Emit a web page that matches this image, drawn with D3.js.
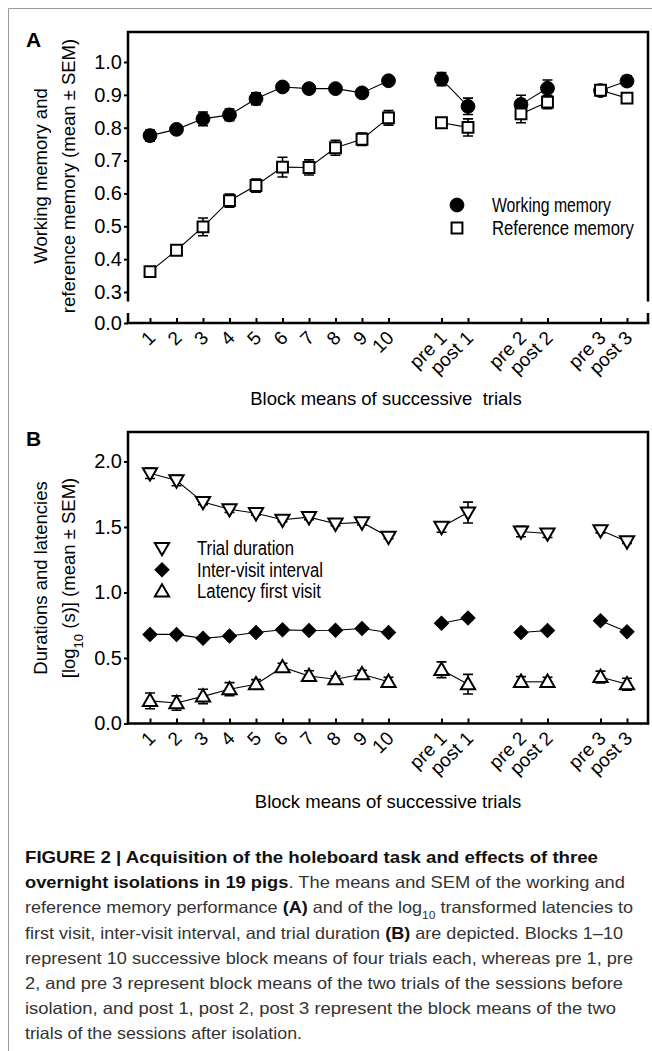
<!DOCTYPE html>
<html>
<head>
<meta charset="utf-8">
<script src="https://cdn.jsdelivr.net/npm/d3@7"></script>
<style>
body { margin: 0; background: #fff; }
svg { display: block; font-family: "Liberation Sans", Arial, sans-serif; }
</style>
</head>
<body>
<script>
var W = 652, H = 1051;

// block categories and their slot on the x axis (gaps between sessions)
var blocks = ["1", "2", "3", "4", "5", "6", "7", "8", "9", "10", "pre 1", "post 1", "pre 2", "post 2", "pre 3", "post 3"];
var blockPos = [1, 2, 3, 4, 5, 6, 7, 8, 9, 10, 12, 13, 15, 16, 18, 19];
var segments = [[0, 10], [10, 12], [12, 14], [14, 16]];

// panel A
var wmMean = [0.776, 0.795, 0.827, 0.839, 0.888, 0.924, 0.919, 0.919, 0.906, 0.943, 0.948, 0.865, 0.871, 0.920, 0.913, 0.942];
var wmSem  = [0.017, 0.013, 0.021, 0.018, 0.018, 0.008, 0.010, 0.008, 0.010, 0.010, 0.020, 0.025, 0.028, 0.025, 0.008, 0.015];
var rmMean = [0.362, 0.427, 0.498, 0.578, 0.624, 0.680, 0.679, 0.739, 0.765, 0.830, 0.815, 0.801, 0.842, 0.878, 0.914, 0.890];
var rmSem  = [0.008, 0.008, 0.027, 0.020, 0.020, 0.030, 0.023, 0.023, 0.019, 0.022, 0.010, 0.026, 0.027, 0.020, 0.010, 0.006];
var yTicksA = [0.0, 0.3, 0.4, 0.5, 0.6, 0.7, 0.8, 0.9, 1.0];

// panel B
var tdMean  = [1.91, 1.855, 1.69, 1.635, 1.605, 1.555, 1.575, 1.525, 1.535, 1.425, 1.50, 1.61, 1.465, 1.45, 1.475, 1.39];
var tdSem   = [0.04, 0.04, 0.02, 0.025, 0.015, 0.015, 0.02, 0.015, 0.02, 0.015, 0.04, 0.08, 0.04, 0.03, 0.02, 0.015];
var ivMean  = [0.68, 0.68, 0.65, 0.668, 0.695, 0.715, 0.71, 0.712, 0.725, 0.695, 0.765, 0.805, 0.695, 0.71, 0.785, 0.70];
var ivSem   = [0.01, 0.01, 0.01, 0.01, 0.01, 0.01, 0.01, 0.01, 0.01, 0.01, 0.015, 0.015, 0.01, 0.01, 0.015, 0.01];
var lfMean  = [0.173, 0.156, 0.207, 0.262, 0.300, 0.430, 0.363, 0.338, 0.376, 0.318, 0.410, 0.300, 0.318, 0.318, 0.355, 0.300];
var lfSem   = [0.060, 0.055, 0.055, 0.050, 0.035, 0.030, 0.040, 0.025, 0.030, 0.035, 0.060, 0.075, 0.040, 0.035, 0.045, 0.045];
var yTicksB = [0.0, 0.5, 1.0, 1.5, 2.0];

var svg = d3.select("body").append("svg")
  .attr("width", W).attr("height", H);

// outer figure frame (top and left only)
svg.append("path").attr("d", "M8.5,1051 V8.5 H652")
  .attr("fill", "none").attr("stroke", "#9a9a9a").attr("stroke-width", 1);

var x = d3.scaleLinear().domain([1, 19]).range([150, 627]);
var left = 128, right = 648;

function symbolFor(type) {
  if (type == "circle") return d3.symbol().type(d3.symbolCircle).size(150);
  if (type == "square") return d3.symbol().type(d3.symbolSquare).size(118);
  if (type == "diamond") return d3.symbol().type(d3.symbolSquare).size(100);
  return d3.symbol().type(d3.symbolTriangle).size(88);
}

function drawMarker(g, type, cx, cy) {
  var rot = type == "diamond" ? 45 : (type == "tridown" ? 180 : 0);
  var dy = type == "tridown" ? -1 : (type == "triup" ? 1 : 0);
  g.append("path")
    .attr("d", symbolFor(type)())
    .attr("transform", "translate(" + cx + "," + (cy + dy) + ") rotate(" + rot + ")")
    .attr("fill", (type == "circle" || type == "diamond") ? "#000" : "#fff")
    .attr("stroke", "#000")
    .attr("stroke-width", (type == "circle" || type == "diamond") ? 1 : 2);
}

function drawSeries(g, y, mean, sem, type) {
  var line = d3.line().x(function(d) { return x(blockPos[d]); }).y(function(d) { return y(mean[d]); });
  segments.forEach(function(s) {
    g.append("path").attr("d", line(d3.range(s[0], s[1])))
      .attr("fill", "none").attr("stroke", "#000").attr("stroke-width", 1.1);
  });
  mean.forEach(function(m, i) {
    var cx = x(blockPos[i]);
    var y0 = y(m - sem[i]), y1 = y(m + sem[i]);
    g.append("path")
      .attr("d", "M" + cx + "," + y0 + "V" + y1 + "M" + (cx - 5) + "," + y0 + "H" + (cx + 5) + "M" + (cx - 5) + "," + y1 + "H" + (cx + 5))
      .attr("fill", "none").attr("stroke", "#000").attr("stroke-width", 1.6);
  });
  mean.forEach(function(m, i) {
    drawMarker(g, type, x(blockPos[i]), y(m));
  });
}

function drawXAxis(g, yBase) {
  var ax = d3.axisBottom(x).tickValues(blockPos).tickSize(-5)
    .tickFormat(function(d, i) { return blocks[i]; });
  var a = g.append("g").attr("transform", "translate(0," + yBase + ")").call(ax);
  a.select(".domain").remove();
  a.selectAll(".tick line").attr("stroke", "#000").attr("stroke-width", 2);
  a.selectAll(".tick text")
    .attr("y", 0).attr("dy", 0)
    .attr("text-anchor", "end")
    .attr("transform", "translate(6,16) rotate(-45)")
    .attr("font-size", 19).attr("fill", "#000");
  a.attr("font-family", null);
  g.append("path").attr("d", "M" + (left - 1.2) + "," + yBase + "H" + (right + 1.2))
    .attr("stroke", "#000").attr("stroke-width", 2.5);
}

function drawYAxis(g, y, ticks) {
  var ax = d3.axisLeft(y).tickValues(ticks).tickSize(4).tickPadding(2).tickFormat(d3.format(".1f"));
  var a = g.append("g").attr("transform", "translate(" + left + ",0)").call(ax);
  a.select(".domain").remove();
  a.selectAll(".tick line").attr("stroke", "#000").attr("stroke-width", 2);
  a.selectAll(".tick text").attr("font-size", 20).attr("fill", "#000");
  a.attr("font-family", null);
}

function yTitle(g, lines, cy) {
  var t = g.append("text").attr("transform", "translate(0," + cy + ") rotate(-90)")
    .attr("text-anchor", "middle").attr("font-size", 18.5).attr("fill", "#000");
  lines.forEach(function(ln, i) {
    var tt = t.append("tspan").attr("x", 0).attr("y", i == 0 ? 47 : 75);
    ln.forEach(function(p) {
      var s = tt.append("tspan").text(p.t);
      if (p.sub) s.attr("font-size", 13).attr("baseline-shift", "sub");
    });
  });
}

// legend labels are a condensed face in the original: squeeze them to width
function legend(g, items, lx, ly) {
  items.forEach(function(it, i) {
    var cy = ly + i * it.step;
    drawMarker(g, it.type, lx, cy);
    var t = g.append("text").attr("x", 0).attr("y", 0)
      .attr("font-size", 19.5).attr("fill", "#000")
      .text(it.label);
    var k = it.w / t.node().getComputedTextLength();
    t.attr("transform", "translate(" + (lx + 35) + "," + (cy + 7) + ") scale(" + k + ",1)");
  });
}

// ---------------- Panel A ----------------
var topA = 32, baseA = 323;
var yA = d3.scaleLinear().domain([0, 0.3, 1.0]).range([baseA, 292, 62]);
var gA = svg.append("g");

gA.append("text").attr("x", 26).attr("y", 47).attr("font-size", 21).attr("font-weight", "bold").text("A");
gA.append("path")
  .attr("d", "M" + left + "," + (baseA + 1) + "V313M" + left + ",301.5V" + topA + "H" + right + "V301.5M" + right + ",313V" + (baseA + 1))
  .attr("fill", "none").attr("stroke", "#000").attr("stroke-width", 2.5);
drawYAxis(gA, yA, yTicksA);
drawXAxis(gA, baseA);

drawSeries(gA, yA, wmMean, wmSem, "circle");
drawSeries(gA, yA, rmMean, rmSem, "square");

legend(gA, [
  { type: "circle", label: "Working memory", step: 23, w: 119 },
  { type: "square", label: "Reference memory", step: 23, w: 142 }
], 457, 205);

yTitle(gA, [[{ t: "Working memory and" }], [{ t: "reference memory (mean ± SEM)" }]], 176);
gA.append("text").attr("x", 386).attr("y", 405).attr("text-anchor", "middle")
  .attr("font-size", 18.5).attr("fill", "#000").attr("xml:space", "preserve")
  .text("Block means of successive  trials");

// ---------------- Panel B ----------------
var topB = 432, baseB = 723.5;
var yB = d3.scaleLinear().domain([0, 2.225]).range([baseB, topB]);
var gB = svg.append("g");

gB.append("text").attr("x", 26).attr("y", 446).attr("font-size", 21).attr("font-weight", "bold").text("B");
gB.append("path")
  .attr("d", "M" + left + "," + (baseB + 1) + "V" + topB + "H" + right + "V" + (baseB + 1))
  .attr("fill", "none").attr("stroke", "#000").attr("stroke-width", 2.5);
drawYAxis(gB, yB, yTicksB);
drawXAxis(gB, baseB);

drawSeries(gB, yB, tdMean, tdSem, "tridown");
drawSeries(gB, yB, ivMean, ivSem, "diamond");
drawSeries(gB, yB, lfMean, lfSem, "triup");

legend(gB, [
  { type: "tridown", label: "Trial duration", step: 21.7, w: 97 },
  { type: "diamond", label: "Inter-visit interval", step: 21.7, w: 126 },
  { type: "triup", label: "Latency first visit", step: 21.7, w: 124 }
], 162, 548);

yTitle(gB, [[{ t: "Durations and latencies" }], [{ t: "[log" }, { t: "10", sub: true }, { t: " (s)] (mean ± SEM)" }]], 578);
gB.append("text").attr("x", 388).attr("y", 808).attr("text-anchor", "middle")
  .attr("font-size", 18.5).attr("fill", "#000")
  .text("Block means of successive trials");

// ---------------- Caption ----------------
var caption = [
  { w: 573, parts: [{ t: "FIGURE 2 | Acquisition of the holeboard task and effects of three", b: true }] },
  { w: 600, parts: [{ t: "overnight isolations in 19 pigs", b: true }, { t: ". The means and SEM of the working and" }] },
  { w: 608, parts: [{ t: "reference memory performance " }, { t: "(A)", b: true }, { t: " and of the log" }, { t: "10", sub: true }, { t: " transformed latencies to" }] },
  { w: 598, parts: [{ t: "first visit, inter-visit interval, and trial duration " }, { t: "(B)", b: true }, { t: " are depicted. Blocks 1–10" }] },
  { w: 608, parts: [{ t: "represent 10 successive block means of four trials each, whereas pre 1, pre" }] },
  { w: 598, parts: [{ t: "2, and pre 3 represent block means of the two trials of the sessions before" }] },
  { w: 591, parts: [{ t: "isolation, and post 1, post 2, post 3 represent the block means of the two" }] },
  { w: 277, parts: [{ t: "trials of the sessions after isolation." }] }
];

var gC = svg.append("g");
caption.forEach(function(ln, i) {
  var t = gC.append("text").attr("x", 25).attr("y", 863 + i * 25.2)
    .attr("font-size", 16.5).attr("fill", "#333")
    .attr("textLength", ln.w).attr("lengthAdjust", "spacingAndGlyphs")
    .attr("xml:space", "preserve");
  ln.parts.forEach(function(p) {
    var s = t.append("tspan").text(p.t);
    if (p.b) s.attr("font-weight", "bold").attr("fill", "#111");
    if (p.sub) s.attr("font-size", 11).attr("baseline-shift", "sub");
  });
});
</script>
</body>
</html>
